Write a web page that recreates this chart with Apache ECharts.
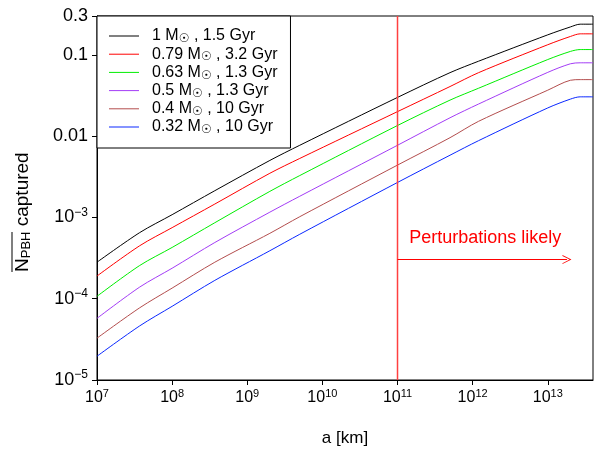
<!DOCTYPE html>
<html><head><meta charset="utf-8">
<script src="https://cdn.jsdelivr.net/npm/echarts@6/dist/echarts.min.js"></script>
<style>html,body{margin:0;padding:0;background:#fff}#c{width:594px;height:452px}</style>
</head><body><div id="c"></div>
<script>
// semi-major axis a [km]
const aKm = [1e7, 3.7e7, 1e8, 3.7e8, 2e9, 5e9, 1e11, 5e11, 1.2e12, 1e13, 2e13, 2.7e13, 4e13];
const masses = ['1', '0.79', '0.63', '0.5', '0.4', '0.32'];
const ages = ['1.5', '3.2', '1.3', '1.3', '10', '10'];
const n100 = [2.81e-4, 6.50e-4, 1.08e-3, 2.13e-3, 5.02e-3, 7.71e-3, 2.99e-2, 6.03e-2, 8.34e-2, 0.176, 0.220, 0.238, 0.238];
const n079 = [1.90e-4, 4.48e-4, 7.48e-4, 1.46e-3, 3.49e-3, 5.31e-3, 2.00e-2, 4.07e-2, 6.03e-2, 0.133, 0.168, 0.181, 0.181];
const n063 = [1.07e-4, 2.56e-4, 4.27e-4, 8.60e-4, 2.09e-3, 3.27e-3, 1.35e-2, 2.77e-2, 3.88e-2, 8.74e-2, 0.110, 0.116, 0.116];
const n050 = [5.73e-5, 1.39e-4, 2.37e-4, 4.91e-4, 1.16e-3, 1.82e-3, 7.71e-3, 1.68e-2, 2.48e-2, 6.08e-2, 7.75e-2, 7.97e-2, 7.97e-2];
const n040 = [3.27e-5, 7.73e-5, 1.35e-4, 2.81e-4, 6.37e-4, 1.02e-3, 4.40e-3, 9.56e-3, 1.52e-2, 3.67e-2, 4.86e-2, 4.95e-2, 4.95e-2];
const n032 = [1.96e-5, 4.63e-5, 8.06e-5, 1.68e-4, 3.89e-4, 6.20e-4, 2.69e-3, 5.82e-3, 8.79e-3, 2.22e-2, 2.85e-2, 3.04e-2, 3.04e-2];
const curves = [n100, n079, n063, n050, n040, n032];
const colors = ['#000000', '#ff0000', '#00ee00', '#a33cf6', '#b34d4d', '#0a28ff'];

const xTickVals = [1e7, 1e8, 1e9, 1e10, 1e11, 1e12, 1e13];
const xTickText = ['10^7', '10^8', '10^9', '10^10', '10^11', '10^12', '10^13'];
const yTickVals = [1e-5, 1e-4, 1e-3, 0.01, 0.1, 0.3];
const yTickText = ['10^\u22125', '10^\u22124', '10^\u22123', '0.01', '0.1', '0.3'];

// perturbation boundary and annotation
const perturbA = 1e11;
const perturbLineN = [1e-5, 0.3];
const arrowN = 3.03e-4;
const arrowEndA = 1.8e13;
const textA = 1.41e11, textN = 5.65e-4;

const FONT = '"Liberation Sans", Arial, Helvetica, sans-serif';
const names = masses.map((m, i) => m + ' M\u2609 , ' + ages[i] + ' Gyr');

function tickLabel(vals, texts, v) {
  const lv = Math.log10(v);
  const i = vals.findIndex(t => Math.abs(Math.log10(t) - lv) < 0.01);
  if (i < 0) return '';
  const parts = texts[i].split('^');
  return parts.length > 1 ? '{b|' + parts[0] + '}{s|' + parts[1] + '}' : '{b|' + parts[0] + '}';
}
const xRich = {
  b: { fontSize: 16, fontFamily: FONT, color: '#000', lineHeight: 20 },
  s: { fontSize: 11, fontFamily: FONT, color: '#000', verticalAlign: 'top' }
};
const yRich = {
  b: { fontSize: 18, fontFamily: FONT, color: '#000', lineHeight: 22 },
  s: { fontSize: 12, fontFamily: FONT, color: '#000', verticalAlign: 'top' }
};

const chevron = 'path://M0,10 L5,0 L10,10 L9,10 L5,2 L1,10 Z';
const RED = '#ff0000';
const RED_LIGHT = '#ff4040';

const series = curves.map((c, i) => ({
  name: names[i],
  type: 'line',
  data: aKm.map((a, j) => [a, c[j]]),
  symbol: 'none',
  smooth: 0.3,
  lineStyle: { width: 1, color: colors[i] },
  itemStyle: { color: colors[i] },
  silent: true,
  z: 3
}));
series.push({
  name: 'perturbations',
  type: 'line',
  data: perturbLineN.map(n => [perturbA, n]),
  symbol: 'none',
  silent: true,
  itemStyle: { color: RED_LIGHT },
  lineStyle: { color: RED_LIGHT, width: 1.5 },
  z: 4,
  markLine: {
    silent: true,
    symbol: 'none',
    animation: false,
    label: { show: false },
    lineStyle: { color: RED, width: 1, type: 'solid' },
    data: [
      [{ coord: [perturbA, arrowN], symbol: 'none' },
       { coord: [arrowEndA, arrowN], symbol: chevron, symbolSize: [9, 9] }]
    ]
  },
  markPoint: {
    silent: true,
    animation: false,
    data: [{
      coord: [textA, textN], symbol: 'rect', symbolSize: 1,
      itemStyle: { color: 'rgba(0,0,0,0)' },
      label: { show: true, position: 'right', distance: 0, formatter: 'Perturbations likely',
        color: RED, fontSize: 18, fontFamily: FONT }
    }]
  }
});

const chart = echarts.init(document.getElementById('c'), null, { renderer: 'canvas' });
chart.setOption({
  animation: false,
  backgroundColor: '#fff',
  grid: { left: 97, right: 1, top: 16, bottom: 68, show: true, borderColor: '#000', borderWidth: 1 },
  xAxis: {
    type: 'log', logBase: 10, min: 1e7, max: 4e13,
    name: 'a [km]', nameLocation: 'middle', nameGap: 50,
    nameTextStyle: { fontSize: 17, fontFamily: FONT, color: '#000' },
    axisLine: { lineStyle: { color: '#000', width: 1 } },
    axisTick: { show: true, length: 5, inside: false, lineStyle: { color: '#000' }, customValues: xTickVals },
    axisLabel: { margin: 8, customValues: xTickVals, formatter: v => tickLabel(xTickVals, xTickText, v), rich: xRich },
    splitLine: { show: false }, minorTick: { show: false }
  },
  yAxis: {
    type: 'log', logBase: 10, min: 1e-5, max: 0.3,
    axisLine: { lineStyle: { color: '#000', width: 1 } },
    axisTick: { show: true, length: 5, inside: false, lineStyle: { color: '#000' }, customValues: yTickVals },
    axisLabel: { margin: 9, customValues: yTickVals, formatter: v => tickLabel(yTickVals, yTickText, v), rich: yRich },
    splitLine: { show: false }, minorTick: { show: false }
  },
  legend: {
    orient: 'vertical', left: 97, top: 16,
    padding: [12, 13, 12, 12], itemGap: 1.2, itemWidth: 30, itemHeight: 1,
    icon: 'rect',
    backgroundColor: '#fff', borderColor: '#000', borderWidth: 1, borderRadius: 0,
    selectedMode: false,
    data: names,
    formatter: name => {
      const i = names.indexOf(name);
      return '{t|' + masses[i] + ' M}{u|\u2609}{t| , ' + ages[i] + ' Gyr}';
    },
    textStyle: {
      padding: [0, 0, 0, 8], fontFamily: FONT, fontSize: 16, color: '#000',
      rich: {
        t: { fontSize: 16, fontFamily: FONT, color: '#000', lineHeight: 18 },
        u: { fontSize: 12, fontFamily: '"DejaVu Sans", sans-serif', color: '#000', verticalAlign: 'bottom' }
      }
    }
  },
  graphic: [{
    type: 'text', rotation: Math.PI / 2, x: 22, y: 272, silent: true,
    style: {
      text: '{o|\u00a0}\n{n|N}{p|PBH}{t| captured}',
      align: 'left', verticalAlign: 'middle', fill: '#000', fontFamily: FONT, fontSize: 19,
      rich: {
        o: { width: 40, height: 1, lineHeight: 2, fontSize: 1, backgroundColor: '#000' },
        n: { fontSize: 19, fontFamily: FONT, lineHeight: 20 },
        p: { fontSize: 13, fontFamily: FONT, verticalAlign: 'bottom' },
        t: { fontSize: 19, fontFamily: FONT, lineHeight: 20 }
      }
    }
  }],
  series: series
});
</script></body></html>
